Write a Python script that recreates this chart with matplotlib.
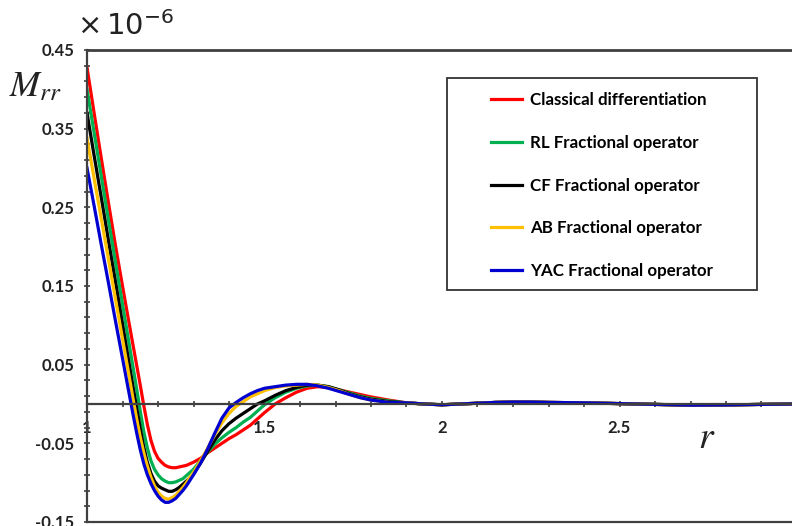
import matplotlib
matplotlib.use("Agg")
import matplotlib.pyplot as plt
from matplotlib.ticker import FixedLocator, MultipleLocator, FixedFormatter
from matplotlib.patches import Rectangle

# ---------------- data (values in units of 1e-6) ----------------
r = [1.00, 1.02, 1.04, 1.06, 1.08, 1.10, 1.12,
     1.13, 1.14, 1.15, 1.16, 1.17, 1.18, 1.19, 1.20, 1.21, 1.22, 1.23, 1.24,
     1.25, 1.26, 1.27, 1.28, 1.29, 1.30,
     1.32, 1.34, 1.36, 1.38, 1.40, 1.42, 1.44, 1.46, 1.48, 1.50,
     1.53, 1.56, 1.59, 1.62, 1.65, 1.68, 1.71, 1.74, 1.77, 1.80, 1.85,
     1.90, 1.95, 2.00, 2.05, 2.10, 2.15, 2.20, 2.25, 2.30, 2.40, 2.50,
     2.60, 2.70, 2.80, 2.90, 3.00]

tail = [0.0015, 0.0000, -0.0010, 0.0000, 0.0010, 0.0020, 0.0025, 0.0025,
        0.0020, 0.0015, 0.0005, -0.0005, -0.0015, -0.0012, -0.0005, 0.0000]

classical = [0.428, 0.370, 0.313, 0.257, 0.202, 0.150, 0.099,
             0.074, 0.049, 0.024, -0.002, -0.026, -0.046, -0.060, -0.069, -0.074, -0.078, -0.080, -0.081,
             -0.081, -0.080, -0.079, -0.078, -0.076, -0.074,
             -0.069, -0.062, -0.056, -0.050, -0.044, -0.039, -0.033, -0.027, -0.019, -0.011,
             0.000, 0.008, 0.015, 0.020, 0.022, 0.021, 0.018, 0.015, 0.012, 0.009, 0.005] + tail
rl = [0.400, 0.345, 0.290, 0.235, 0.181, 0.127, 0.073,
      0.046, 0.019, -0.009, -0.035, -0.056, -0.072, -0.083, -0.090, -0.095, -0.098, -0.100, -0.100,
      -0.099, -0.097, -0.095, -0.091, -0.087, -0.083,
      -0.072, -0.061, -0.051, -0.043, -0.036, -0.030, -0.023, -0.017, -0.009, -0.001,
      0.008, 0.015, 0.020, 0.023, 0.024, 0.022, 0.018, 0.014, 0.010, 0.007, 0.004] + tail
cf = [0.370, 0.316, 0.263, 0.209, 0.156, 0.102, 0.048,
      0.021, -0.005, -0.031, -0.055, -0.074, -0.088, -0.098, -0.104, -0.107, -0.109, -0.111, -0.111,
      -0.109, -0.106, -0.102, -0.098, -0.094, -0.089,
      -0.075, -0.060, -0.046, -0.034, -0.025, -0.018, -0.012, -0.006, 0.000, 0.004,
      0.011, 0.017, 0.021, 0.024, 0.024, 0.022, 0.018, 0.013, 0.009, 0.006, 0.003] + tail
ab = [0.338, 0.287, 0.236, 0.185, 0.134, 0.083, 0.032,
      0.006, -0.019, -0.042, -0.062, -0.079, -0.093, -0.104, -0.112, -0.117, -0.120, -0.121, -0.119,
      -0.116, -0.111, -0.106, -0.100, -0.093, -0.087,
      -0.072, -0.056, -0.039, -0.024, -0.012, -0.003, 0.003, 0.009, 0.013, 0.017,
      0.021, 0.023, 0.024, 0.025, 0.024, 0.021, 0.017, 0.012, 0.008, 0.005, 0.002] + tail
yac = [0.300, 0.252, 0.203, 0.155, 0.106, 0.058, 0.010,
       -0.014, -0.037, -0.058, -0.076, -0.090, -0.101, -0.110, -0.117, -0.122, -0.125, -0.125, -0.123,
       -0.120, -0.115, -0.110, -0.104, -0.097, -0.090,
       -0.075, -0.057, -0.037, -0.018, -0.005, 0.002, 0.008, 0.013, 0.017, 0.020,
       0.022, 0.024, 0.025, 0.025, 0.023, 0.020, 0.016, 0.012, 0.008, 0.005, 0.002] + tail

series_labels = ["Classical differentiation", "RL Fractional operator",
                 "CF Fractional operator", "AB Fractional operator",
                 "YAC Fractional operator"]
series_colors = ["#FF0000", "#00B050", "#000000", "#FFC000", "#0000D0"]

yticks = [-0.15, -0.05, 0.05, 0.15, 0.25, 0.35, 0.45]
ytick_labels = ["-0.15", "-0.05", "0.05", "0.15", "0.25", "0.35", "0.45"]
xticks = [1, 1.5, 2, 2.5]
xtick_labels = ["1", "1.5", "2", "2.5"]

# ---------------- figure ----------------
W, H = 792, 526
fig = plt.figure(figsize=(W / 100, H / 100), dpi=100)
ax = fig.add_axes([87 / W, 1 - 522 / H, (W - 87) / W, (522 - 50) / H])

for y, lab, col in zip([classical, rl, cf, ab, yac], series_labels, series_colors):
    ax.plot(r, y, color=col, lw=2.3, label=lab, solid_joinstyle="round")

ax.set_xlim(1, 1 + (W - 87) / 355)
ax.set_ylim(-0.15, 0.45)

spc = "#404040"
ax.spines["right"].set_visible(False)
ax.spines["top"].set_color(spc)
ax.spines["top"].set_linewidth(2)
ax.spines["left"].set_color(spc)
ax.spines["left"].set_linewidth(1.6)
ax.spines["bottom"].set_position(("data", 0))
ax.spines["bottom"].set_color(spc)
ax.spines["bottom"].set_linewidth(1.6)
ax.plot([0, 1], [0, 0], transform=ax.transAxes, color=spc, lw=1.6, clip_on=False)

ax.yaxis.set_major_locator(FixedLocator(yticks))
ax.yaxis.set_major_formatter(FixedFormatter(ytick_labels))
ax.yaxis.set_minor_locator(MultipleLocator(0.02, offset=0.01))
ax.xaxis.set_major_locator(FixedLocator(xticks))
ax.xaxis.set_major_formatter(FixedFormatter(xtick_labels))
ax.xaxis.set_minor_locator(MultipleLocator(0.1))

ax.tick_params(axis="both", which="both", direction="inout", color=spc, width=1.2)
ax.tick_params(axis="y", which="both", length=4, pad=7)
ax.tick_params(axis="x", which="both", length=5, pad=9)
for lab in ax.get_xticklabels() + ax.get_yticklabels():
    lab.set_fontfamily("Lato")
    lab.set_fontweight("bold")
    lab.set_fontsize(12)
    lab.set_color("#222222")

# texts
fig.text(77 / W, 1 - 26 / H, r"$\times\,10^{-6}$", fontsize=21, va="center", ha="left", color="#222222")
fig.text(9 / W, 1 - 86 / H, r"$M_{rr}$", fontsize=26, va="center", ha="left",
         math_fontfamily="stix", color="#222222")
fig.text(698 / W, 1 - 438 / H, r"$r$", fontsize=27, va="center", ha="left",
         math_fontfamily="stix", color="#222222")

# legend box and legend
fig.patches.append(Rectangle((447 / W, 1 - 290 / H), 310 / W, 212 / H, transform=fig.transFigure,
                             facecolor="white", edgecolor="#333333", lw=1.3, zorder=5))
leg = fig.legend(loc="upper left", bbox_to_anchor=(491 / W, 1 - 92 / H), frameon=False,
                 prop=dict(family="Lato", weight="bold", size=12.2), handlelength=1.85,
                 handletextpad=0.45, labelspacing=1.58, borderpad=0, borderaxespad=0)
leg.set_zorder(6)
for h in leg.get_lines():
    h.set_linewidth(2.3)

fig.savefig("out.png", dpi=100)
